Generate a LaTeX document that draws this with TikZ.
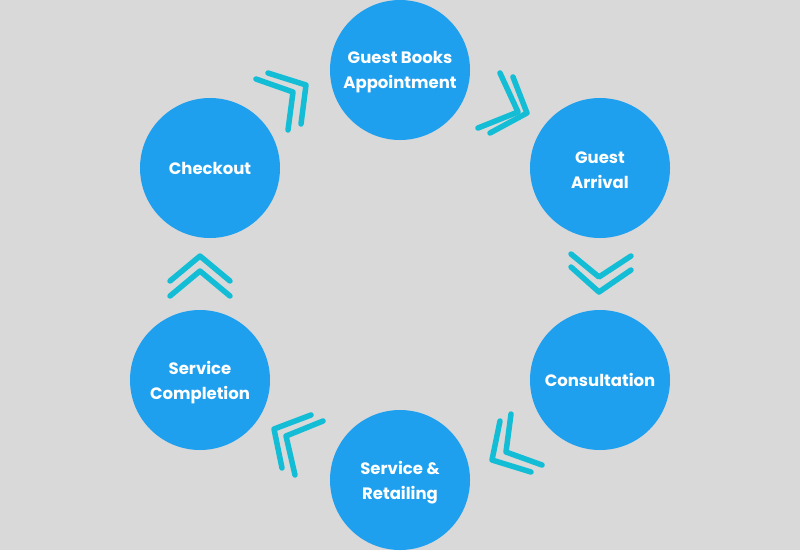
\documentclass[tikz,border=0pt]{standalone}
\usepackage{fontspec}
\setmainfont{Poppins}
\definecolor{bg}{HTML}{D9D9D9}
\definecolor{disc}{HTML}{1FA0EE}
\definecolor{chev}{HTML}{13BDD6}
\begin{document}
\begin{tikzpicture}[x=1pt,y=-1pt,
  stage/.style={circle,fill=disc,minimum size=140pt,inner sep=0pt,text=white,
    font=\fontsize{16.5}{25}\selectfont\bfseries,align=center},
  caption/.style={inner sep=0pt,text=white,
    font=\fontsize{16.5}{25}\selectfont\bfseries,align=center},
  chevline/.style={draw=chev,line width=5.5pt,line cap=round,line join=round}]
\fill[bg] (0,0) rectangle (800,550);
\useasboundingbox (0,0) rectangle (800,550);
\node[stage] (book) at (400,70) {};
\node[caption] (bookt) at ([yshift=-2.5pt]book.center) {Guest Books\\Appointment};
\node[stage] (arr) at (600,168) {};
\node[caption] (arrt) at ([yshift=-2.5pt]arr.center) {Guest\\Arrival};
\node[stage] (cons) at (600,380) {Consultation};
\node[stage] (serv) at (400,480) {};
\node[caption] (servt) at ([yshift=-2.5pt]serv.center) {Service \&\\Retailing};
\node[stage] (comp) at (200,380) {};
\node[caption] (compt) at ([yshift=-2.5pt]comp.center) {Service\\Completion};
\node[stage] (chk) at (210,168) {Checkout};
% chevrons
\draw[chevline] (256,79) -- (293,92) -- (288,130);
\draw[chevline] (268,73) -- (306,85) -- (301,124);
\draw[chevline] (500,73) -- (518,112) -- (478,128);
\draw[chevline] (513,77) -- (527,113) -- (490,133);
\draw[chevline] (571,254) -- (599,277) -- (631,256);
\draw[chevline] (571,267) -- (599,292) -- (631,270);
\draw[chevline] (500,421) -- (492,460) -- (531,472);
\draw[chevline] (511,414) -- (506,452) -- (542,465);
\draw[chevline] (311,415) -- (274,429) -- (282,468);
\draw[chevline] (323,421) -- (286,436) -- (295,475);
\draw[chevline] (170,281) -- (200,256) -- (230,281);
\draw[chevline] (170,296) -- (200,271) -- (230,296);
\end{tikzpicture}
\end{document}
